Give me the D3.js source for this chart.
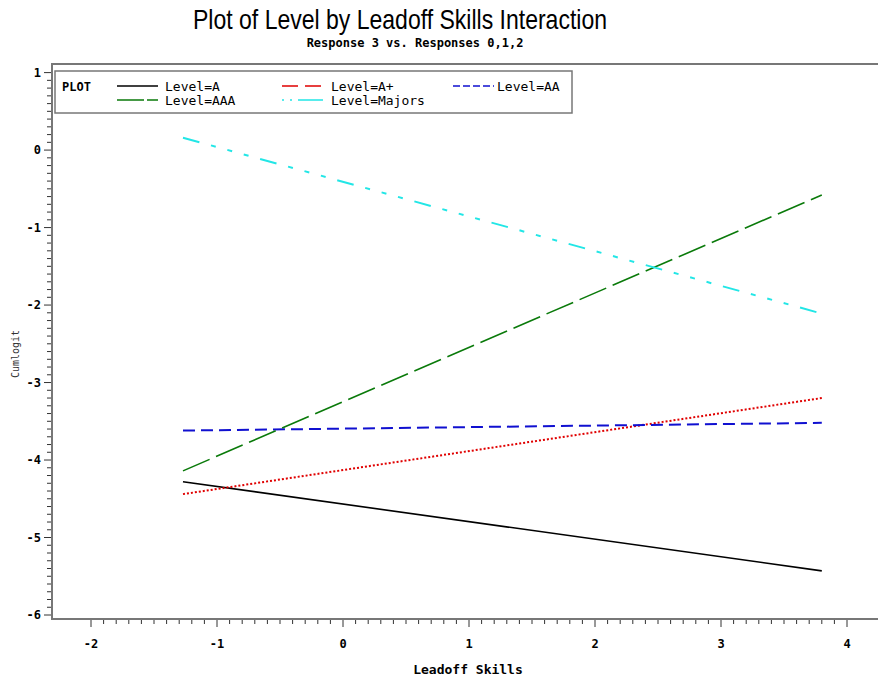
<!DOCTYPE html>
<html>
<head>
<meta charset="utf-8">
<script src="https://cdn.jsdelivr.net/npm/d3@7"></script>
<style>
  body { margin: 0; background: #fff; }
  svg { display: block; }
  .mono { font-family: "DejaVu Sans Mono", "Liberation Mono", monospace; }
</style>
</head>
<body>
<svg id="chart" width="878" height="682"></svg>
<script>
// Leadoff Skills range covered by each fitted line (start, end)
const skillEnds = [-1.27, 3.80];

// Cumlogit at the two ends, per level
const levels = ["A", "A+", "AA", "AAA", "Majors"];
const cumlogitA = [-4.28, -5.43];
const cumlogitAPlus = [-4.44, -3.20];
const cumlogitAA = [-3.62, -3.52];
const cumlogitAAA = [-4.14, -0.58];
const cumlogitMajors = [0.16, -2.11];

const xTicks = [-2, -1, 0, 1, 2, 3, 4];
const yTicks = [1, 0, -1, -2, -3, -4, -5, -6];

const seriesValues = [cumlogitA, cumlogitAPlus, cumlogitAA, cumlogitAAA, cumlogitMajors];

// line styles per level (plot line, legend sample)
const STYLE = {
    "A":      { color: "#000000", width: 1.6, dash: null,                    legendDash: null },
    "A+":     { color: "#e00000", width: 2,   dash: "2,2",                   legendDash: "16,7" },
    "AA":     { color: "#1010d0", width: 2,   dash: "12,6",                  legendDash: "7,3" },
    "AAA":    { color: "#0a7a0a", width: 1.6, dash: "29,7",                  legendDash: "27,3" },
    "Majors": { color: "#22e6e6", width: 2,   dash: "17,12,5,12,5,12,5,12",  legendDash: "2,6,2,6,26,4,2,6" },
};

const svg = d3.select("#chart");
const plotLeft = 52, plotTop = 64, plotBottom = 619;

const x = d3.scaleLinear().domain([-2, 4]).range([91, 847]);
const y = d3.scaleLinear().domain([-6, 1]).range([615, 72.6]);
const isMajor = d => Math.abs(d - Math.round(d)) < 1e-6;

// frame (right edge runs off the page like the original)
svg.append("rect")
    .attr("x", plotLeft).attr("y", plotTop)
    .attr("width", 900).attr("height", plotBottom - plotTop)
    .attr("fill", "none").attr("stroke", "#777").attr("stroke-width", 2);

// --- x axis ticks ---
const xMinor = d3.range(-20, 41).map(d => d / 10);
const xAxis = svg.append("g").attr("transform", `translate(0,${plotBottom})`);
xAxis.selectAll("line").data(xMinor).join("line")
    .attr("x1", d => x(d)).attr("x2", d => x(d))
    .attr("y1", 1).attr("y2", d => isMajor(d) ? 8 : 5)
    .attr("stroke", "#333").attr("stroke-width", 1);
xAxis.selectAll("text").data(xTicks).join("text")
    .attr("class", "mono")
    .attr("x", d => x(d)).attr("y", 29)
    .attr("text-anchor", "middle")
    .style("font-size", "12px").style("font-weight", "bold")
    .text(d => d < 0 ? "-" + Math.abs(d) : d);

// --- y axis ticks ---
const yMinor = d3.range(-60, 11).map(d => d / 10);
const yAxis = svg.append("g").attr("transform", `translate(${plotLeft},0)`);
yAxis.selectAll("line").data(yMinor).join("line")
    .attr("y1", d => y(d)).attr("y2", d => y(d))
    .attr("x1", -1).attr("x2", d => isMajor(d) ? -8 : -5)
    .attr("stroke", "#333").attr("stroke-width", 1);
yAxis.selectAll("text").data(yTicks).join("text")
    .attr("class", "mono")
    .attr("x", -11).attr("y", d => y(d) + 4)
    .attr("text-anchor", "end")
    .style("font-size", "12px").style("font-weight", "bold")
    .text(d => d < 0 ? "-" + Math.abs(d) : d);

// --- lines ---
const line = d3.line().x(d => x(d[0])).y(d => y(d[1]));
levels.forEach((lv, i) => {
    const pts = skillEnds.map((s, j) => [s, seriesValues[i][j]]);
    const st = STYLE[lv];
    svg.append("path")
        .datum(pts)
        .attr("d", line)
        .attr("fill", "none")
        .attr("stroke", st.color)
        .attr("stroke-width", st.width)
        .attr("stroke-dasharray", st.dash);
});

// --- legend ---
const lg = svg.append("g");
lg.append("rect")
    .attr("x", 55).attr("y", 71).attr("width", 517).attr("height", 42)
    .attr("fill", "#fff").attr("stroke", "#777").attr("stroke-width", 1.5);
lg.append("text").attr("class", "mono")
    .attr("x", 62).attr("y", 91)
    .style("font-size", "12px").style("font-weight", "bold")
    .text("PLOT");
const slots = [
    { lx: 117, tx: 165, row: 0 }, { lx: 282, tx: 331, row: 0 }, { lx: 453, tx: 497, row: 0 },
    { lx: 117, tx: 165, row: 1 }, { lx: 282, tx: 331, row: 1 },
];
levels.forEach((lv, i) => {
    const s = slots[i], st = STYLE[lv];
    const ly = 86 + s.row * 14;
    lg.append("line")
        .attr("x1", s.lx).attr("x2", s.lx + 41).attr("y1", ly).attr("y2", ly)
        .attr("stroke", st.color).attr("stroke-width", 1.3)
        .attr("stroke-dasharray", st.legendDash);
    lg.append("text").attr("class", "mono")
        .attr("x", s.tx).attr("y", ly + 4.5)
        .style("font-size", "13px")
        .text("Level=" + lv);
});

// --- titles ---
svg.append("text")
    .attr("x", 400).attr("y", 29)
    .attr("text-anchor", "middle")
    .attr("textLength", 414).attr("lengthAdjust", "spacingAndGlyphs")
    .style("font-family", "'Liberation Sans', Arial, sans-serif")
    .style("font-size", "28px")
    .text("Plot of Level by Leadoff Skills Interaction");
svg.append("text").attr("class", "mono")
    .attr("x", 415).attr("y", 47)
    .attr("text-anchor", "middle")
    .style("font-size", "12px").style("font-weight", "bold")
    .text("Response 3 vs. Responses 0,1,2");

svg.append("text").attr("class", "mono")
    .attr("x", 468).attr("y", 674)
    .attr("text-anchor", "middle")
    .style("font-size", "13px").style("font-weight", "bold")
    .text("Leadoff Skills");
svg.append("text").attr("class", "mono")
    .attr("transform", "translate(19,354) rotate(-90)")
    .attr("text-anchor", "middle")
    .style("font-size", "10px").style("fill", "#333")
    .text("Cumlogit");
</script>
</body>
</html>
